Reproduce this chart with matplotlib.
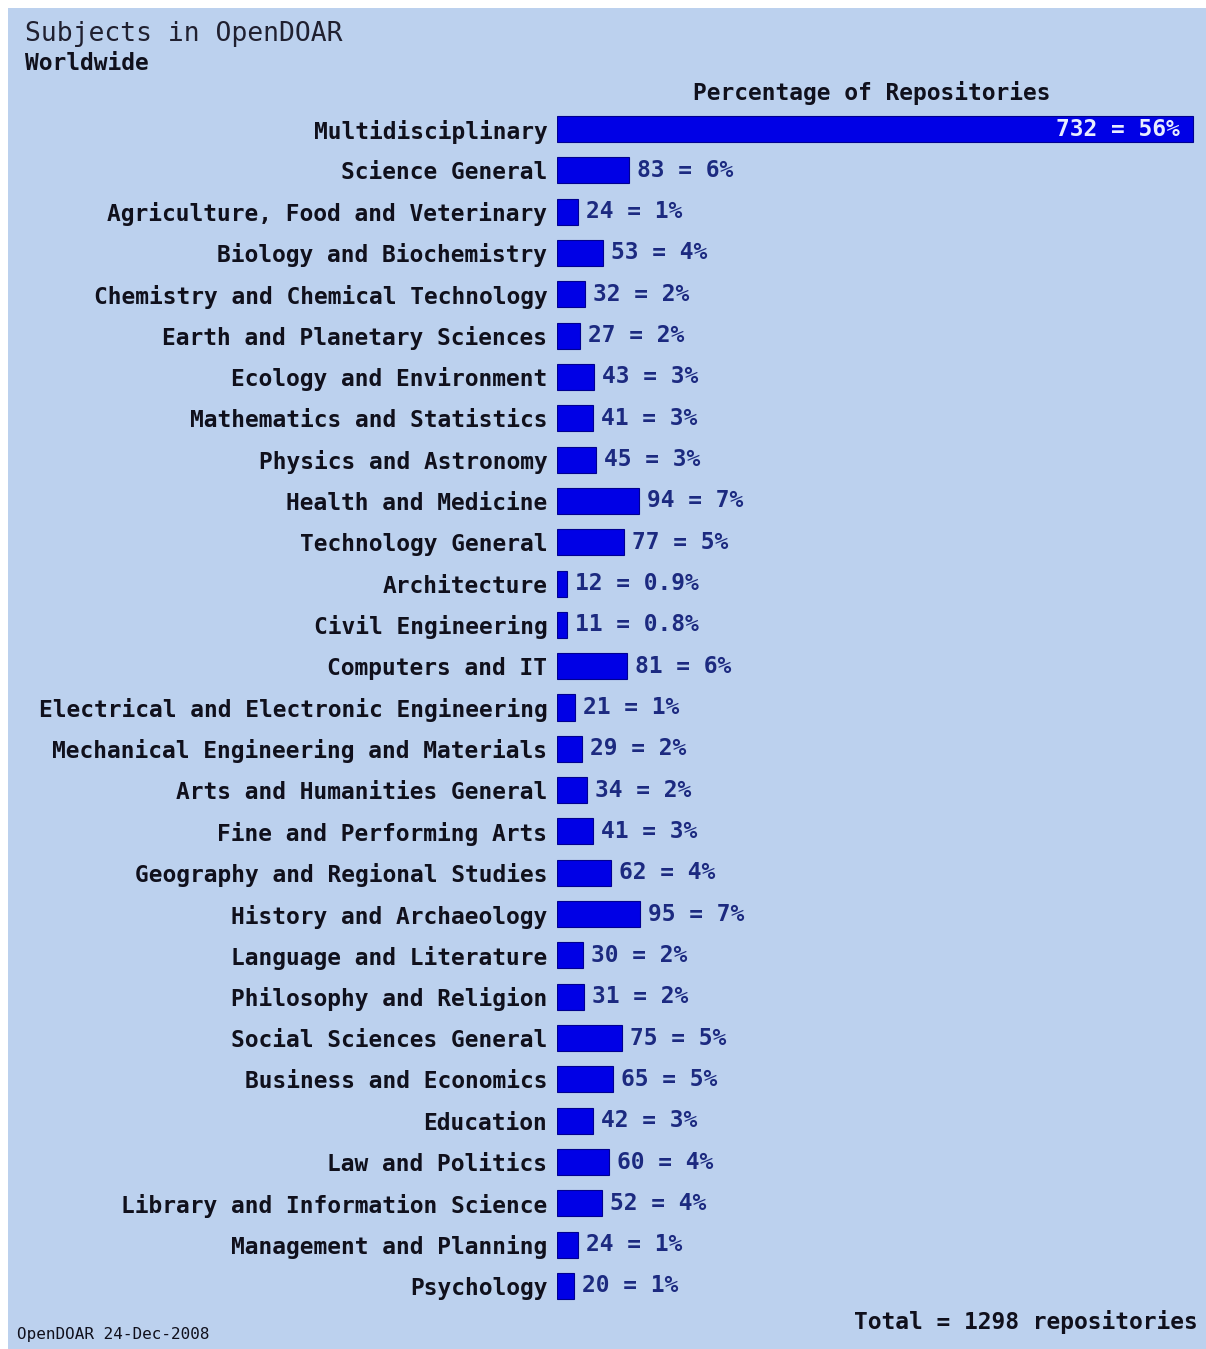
import matplotlib.pyplot as plt
from matplotlib.patches import Rectangle

subjects = [
    "Multidisciplinary", "Science General", "Agriculture, Food and Veterinary",
    "Biology and Biochemistry", "Chemistry and Chemical Technology",
    "Earth and Planetary Sciences", "Ecology and Environment",
    "Mathematics and Statistics", "Physics and Astronomy", "Health and Medicine",
    "Technology General", "Architecture", "Civil Engineering", "Computers and IT",
    "Electrical and Electronic Engineering", "Mechanical Engineering and Materials",
    "Arts and Humanities General", "Fine and Performing Arts",
    "Geography and Regional Studies", "History and Archaeology",
    "Language and Literature", "Philosophy and Religion", "Social Sciences General",
    "Business and Economics", "Education", "Law and Politics",
    "Library and Information Science", "Management and Planning", "Psychology",
]
counts = [732, 83, 24, 53, 32, 27, 43, 41, 45, 94, 77, 12, 11, 81, 21, 29, 34,
          41, 62, 95, 30, 31, 75, 65, 42, 60, 52, 24, 20]
pct_labels = ["56", "6", "1", "4", "2", "2", "3", "3", "3", "7", "5", "0.9", "0.8",
              "6", "1", "2", "2", "3", "4", "7", "2", "2", "5", "5", "3", "4", "4",
              "1", "1"]
total = 1298

W, H = 1206, 1349
bg = "#bcd1ee"
bar_col = "#0000e6"
txt_col = "#10101c"
val_col = "#1c2a80"
mono = "DejaVu Sans Mono"

fig = plt.figure(figsize=(W / 100, H / 100), dpi=100)
fig.patch.set_facecolor("white")
fig.patches.append(Rectangle((8 / W, 0), 1 - 8 / W, 1 - 8 / H,
                             transform=fig.transFigure, facecolor=bg,
                             edgecolor="none", zorder=-10))

# axes placed so that one row = ~41.3 px, bars start at x=557
row = 41.32
top_px = 129 - row / 2
bot_px = 1286 + row / 2
left_px, right_px = 557, 1200
ax = fig.add_axes([left_px / W, 1 - bot_px / H, (right_px - left_px) / W,
                   (bot_px - top_px) / H])
ax.set_facecolor("none")
xmax = (right_px - left_px) / ((1193 - 557) / 732)
ax.set_xlim(0, xmax)
ax.set_ylim(len(subjects) - 0.5, -0.5)

ypos = list(range(len(subjects)))
ax.barh(ypos, counts, height=0.63, color=bar_col, edgecolor="#000090",
        linewidth=0.8)

px = xmax / (right_px - left_px)
for y, c, p in zip(ypos, counts, pct_labels):
    s = f"{c} = {p}%"
    if c > 400:
        ax.text(c - 13 * px, y, s, ha="right", va="center", color="#e8ecff",
                fontsize=16.5, fontweight="bold", family=mono)
    else:
        ax.text(c + 8 * px, y, s, ha="left", va="center", color=val_col,
                fontsize=16.5, fontweight="bold", family=mono)

ax.set_yticks(ypos)
ax.set_yticklabels(subjects, family=mono, fontweight="bold", fontsize=16.5,
                   color=txt_col)
ax.tick_params(axis="y", length=0, pad=7)
ax.set_xticks([])
for sp in ax.spines.values():
    sp.set_visible(False)

fig.text(25 / W, 1 - 34 / H, "Subjects in OpenDOAR", family=mono, fontsize=19,
         color="#202030", va="center", ha="left")
fig.text(25 / W, 1 - 63 / H, "Worldwide", family=mono, fontsize=16.5,
         fontweight="bold", color=txt_col, va="center", ha="left")
fig.text(872 / W, 1 - 93 / H, "Percentage of Repositories", family=mono,
         fontsize=16.5, fontweight="bold", color=txt_col, va="center",
         ha="center")
fig.text(1198 / W, 1 - 1322 / H, f"Total = {total} repositories", family=mono,
         fontsize=16.5, fontweight="bold", color=txt_col, va="center",
         ha="right")
fig.text(17 / W, 1 - 1335 / H, "OpenDOAR 24-Dec-2008", family=mono,
         fontsize=11.5, color=txt_col, va="center", ha="left")

fig.savefig("out.png", dpi=100, facecolor=fig.get_facecolor())
